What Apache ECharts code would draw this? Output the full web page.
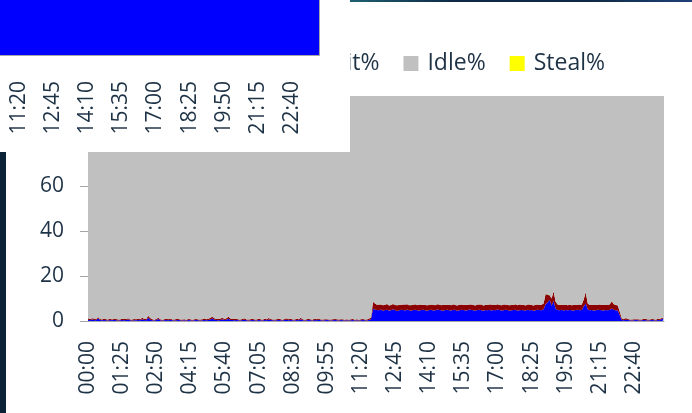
<!DOCTYPE html>
<html>
<head>
<meta charset="UTF-8">
<title>CPU</title>
<script src="https://cdn.jsdelivr.net/npm/echarts@6/dist/echarts.min.js"></script>
<style>
  html, body { margin: 0; padding: 0; background: #fff; }
  #main { width: 692px; height: 413px; }
</style>
</head>
<body>
<div id="main"></div>
<script type="text/javascript">
// 5-minute samples, 00:00 .. 23:55
var times = [];
for (var m = 0; m < 24 * 60; m += 5) {
    var h = Math.floor(m / 60), mm = m % 60;
    times.push((h < 10 ? '0' : '') + h + ':' + (mm < 10 ? '0' : '') + mm);
}

var userPct = [
    0.6,0.3,0.8,0.4,0.3,1.2,0.4,0.3,0.5,0.3,0.2,0.4,0.3,0.6,0.3,0.2,0.3,0.5,0.3,0.4,0.7,0.3,0.2,0.3,
    0.3,0.4,0.3,0.8,0.5,0.3,1.4,0.6,0.3,0.2,0.4,0.9,0.3,0.2,0.3,0.4,0.3,0.6,0.3,0.2,0.3,0.4,0.3,0.2,
    0.3,0.2,0.4,0.3,0.2,0.3,0.4,0.3,0.2,0.3,0.5,0.3,0.4,0.7,1.1,0.6,0.4,0.3,0.5,0.8,0.4,0.6,1.0,0.5,
    0.4,0.3,0.5,0.3,0.2,0.4,0.6,0.3,0.2,0.3,0.5,0.3,0.2,0.4,0.3,0.2,0.5,0.3,0.7,0.4,0.3,0.2,0.3,0.4,
    0.3,0.2,0.4,0.6,0.3,0.5,0.3,0.2,0.4,0.3,0.8,0.3,0.2,0.3,0.5,0.3,0.2,0.4,0.3,0.6,0.3,0.2,0.3,0.4,
    0.3,0.2,0.3,0.5,0.3,0.2,0.4,0.3,0.2,0.3,0.2,0.3,0.4,0.2,0.3,0.2,0.3,0.4,0.3,0.2,0.5,0.8,5.6,5.0,
    4.9,4.8,5.1,4.6,4.9,5.0,4.7,4.8,5.2,4.9,4.5,4.8,5.0,4.9,4.7,5.1,4.8,4.6,4.9,5.0,4.8,4.7,4.9,5.0,
    4.8,4.6,4.9,5.0,4.7,4.8,5.1,4.9,4.8,4.6,4.9,5.0,4.8,4.7,5.0,4.9,4.6,4.8,5.0,4.9,4.7,4.8,5.1,4.9,
    4.8,4.7,4.9,5.0,4.8,4.6,4.9,4.8,5.0,4.7,4.9,4.8,5.1,4.9,4.7,4.8,5.0,4.9,4.6,4.8,4.9,5.0,4.7,4.8,
    4.9,4.8,4.7,5.0,4.8,4.9,4.6,4.8,5.0,4.9,4.8,5.2,7.5,8.2,9.5,6.8,9.0,5.6,4.9,4.8,5.0,4.7,4.9,4.8,
    4.9,4.8,4.7,4.9,5.0,4.8,4.9,6.5,7.8,5.2,4.8,4.9,4.7,4.8,5.0,4.9,4.8,4.7,4.9,4.8,5.0,5.6,4.9,4.8,
    4.7,2.5,0.5,0.3,0.6,0.4,0.3,0.2,0.3,0.4,0.3,0.2,0.3,0.5,0.3,0.2,0.3,0.4,0.3,0.2,0.5,0.3,1.0,0.4
];

var sysPct = [
    0.5,0.6,0.4,0.7,0.5,0.6,0.5,0.4,0.6,0.5,0.5,0.6,0.4,0.5,0.6,0.5,0.4,0.5,0.6,0.5,0.5,0.4,0.5,0.6,
    0.5,0.6,0.5,0.7,0.5,0.6,0.9,0.7,0.5,0.4,0.5,0.6,0.5,0.4,0.5,0.6,0.5,0.5,0.4,0.5,0.6,0.5,0.4,0.5,
    0.5,0.4,0.5,0.5,0.4,0.5,0.5,0.4,0.5,0.5,0.6,0.5,0.6,0.7,0.8,0.6,0.5,0.6,0.6,0.7,0.5,0.6,0.9,0.6,
    0.5,0.6,0.5,0.4,0.5,0.5,0.6,0.4,0.5,0.5,0.5,0.4,0.5,0.6,0.5,0.4,0.5,0.5,0.6,0.5,0.4,0.5,0.5,0.6,
    0.5,0.4,0.5,0.6,0.5,0.5,0.4,0.5,0.6,0.5,0.6,0.5,0.4,0.5,0.5,0.4,0.5,0.6,0.5,0.5,0.4,0.5,0.5,0.4,
    0.4,0.5,0.5,0.4,0.5,0.5,0.4,0.5,0.4,0.5,0.4,0.5,0.5,0.4,0.5,0.4,0.5,0.5,0.4,0.5,0.6,0.7,3.0,2.8,
    2.3,2.5,2.2,2.4,2.3,2.6,2.2,2.3,2.4,2.2,2.5,2.3,2.2,2.4,2.6,2.3,2.2,2.4,2.3,2.5,2.2,2.6,2.3,2.2,
    2.3,2.4,2.2,2.3,2.5,2.2,2.3,2.4,2.2,2.6,2.3,2.2,2.4,2.3,2.5,2.2,2.3,2.4,2.3,2.2,2.5,2.3,2.2,2.4,
    2.3,2.2,2.4,2.3,2.5,2.3,2.2,2.4,2.3,2.6,2.2,2.3,2.4,2.2,2.3,2.5,2.3,2.2,2.4,2.3,2.2,2.4,2.3,2.5,
    2.3,2.4,2.2,2.3,2.5,2.2,2.3,2.4,2.3,2.2,2.4,2.6,4.5,3.4,2.0,3.2,4.2,3.0,2.4,2.3,2.2,2.4,2.3,2.2,
    2.3,2.2,2.4,2.3,2.2,2.5,2.3,3.1,5.0,2.6,2.3,2.2,2.4,2.3,2.2,2.4,2.3,2.5,2.2,2.3,2.4,3.2,2.6,2.3,
    2.2,1.5,0.6,0.5,0.7,0.5,0.4,0.5,0.5,0.4,0.5,0.5,0.4,0.5,0.6,0.5,0.4,0.5,0.5,0.4,0.6,0.5,0.6,0.5
];

var waitPct = [
    0,0,0,0,0,0,0,0,0,0,0,0,0,0,0,0,0,0,0,0,0,0,0,0,
    0,0,0,0,0,0,0,0,0,0,0,0,0,0,0,0,0,0,0,0,0,0,0,0,
    0,0,0,0,0,0,0,0,0,0,0,0,0,0,0,0,0,0,0,0,0,0,0,0,
    0,0,0,0,0,0,0,0,0,0,0,0,0,0,0,0,0,0,0,0,0,0,0,0,
    0,0,0,0,0,0,0,0,0,0,0,0,0,0,0,0,0,0,0,0,0,0,0,0,
    0,0,0,0,0,0,0,0,0,0,0,0,0,0,0,0,0,0,0,0,0,0,0,0,
    0,0,0,0,0,0,0,0,0,0,0,0,0,0,0,0,0,0.2,0,0,0,0,0,0,
    0,0,0,0,0,0,0,0,0,0,0,0,0,0,0,0,0,0,0,0,0,0,0,0,
    0,0,0,0,0,0,0,0,0,0,0,0,0,0,0,0,0,0,0,0,0,0,0,0,
    0,0,0,0,0,0,0,0,0,0,0,0,0,0.2,0,0,0,0,0,0,0,0,0,0,
    0,0,0,0,0,0,0,0,0.2,0,0,0,0,0,0,0,0,0,0,0,0,0,0,0,
    0,0,0,0,0,0,0,0,0,0,0,0,0,0,0,0,0,0,0,0,0,0,0,0
];

var stealPct = [
    0,0,0,0,0,0,0,0,0,0,0,0,0,0,0,0,0,0,0,0,0,0,0,0,
    0,0,0,0,0,0,0,0,0,0,0,0,0,0,0,0,0,0,0,0,0,0,0,0,
    0,0,0,0,0,0,0,0,0,0,0,0,0,0,0,0,0,0,0,0,0,0,0,0,
    0,0,0,0,0,0,0,0,0,0,0,0,0,0,0,0,0,0,0,0,0,0,0,0,
    0,0,0,0,0,0,0,0,0,0,0,0,0,0,0,0,0,0,0,0,0,0,0,0,
    0,0,0,0,0,0,0,0,0,0,0,0,0,0,0,0,0,0,0,0,0,0,0,0,
    0,0,0,0,0,0,0,0,0,0,0,0,0,0,0,0,0,0,0,0,0,0,0,0,
    0,0,0,0,0,0,0,0,0,0,0,0,0,0,0,0,0,0,0,0,0,0,0,0,
    0,0,0,0,0,0,0,0,0,0,0,0,0,0,0,0,0,0,0,0,0,0,0,0,
    0,0,0,0,0,0,0,0,0,0,0,0,0,0,0,0,0,0,0,0,0,0,0,0,
    0,0,0,0,0,0,0,0,0,0,0,0,0,0,0,0,0,0,0,0,0,0,0,0,
    0,0,0,0,0,0,0,0,0,0,0,0,0,0,0,0,0,0,0,0,0,0,0,0
];

// idle is whatever is left of 100%
var idlePct = userPct.map(function (u, i) {
    return +(100 - u - sysPct[i] - waitPct[i] - stealPct[i]).toFixed(1);
});

var seriesNames = ['User%', 'Sys%', 'Wait%', 'Idle%', 'Steal%'];
var seriesColors = ['#0000ff', '#8b0000', '#008000', '#c0c0c0', '#ffff00'];
var seriesData = [userPct, sysPct, waitPct, idlePct, stealPct];

var textColor = '#1e3246';
var fontFamily = '"Open Sans", sans-serif';

var myChart = echarts.init(document.getElementById('main'));

var series = seriesNames.map(function (name, i) {
    return {
        name: name,
        type: 'line',
        stack: 'cpu',
        data: seriesData[i],
        xAxisIndex: 0,
        yAxisIndex: 0,
        symbol: 'none',
        lineStyle: { width: 0 },
        areaStyle: { color: seriesColors[i], opacity: 1 },
        itemStyle: { color: seriesColors[i] }
    };
});

var axisLabelStyle = {
    rotate: 90,
    interval: 16,
    fontSize: 21,
    fontFamily: fontFamily,
    color: textColor
};

option = {
    animation: false,
    backgroundColor: '#ffffff',
    legend: {
        right: 82,
        top: 47,
        icon: 'rect',
        itemWidth: 15,
        itemHeight: 15,
        itemGap: 24,
        data: seriesNames,
        textStyle: { fontSize: 23, fontFamily: fontFamily, color: textColor, padding: [0, 0, 0, 4] }
    },
    grid: [
        { left: 88, right: 28, top: 96, bottom: 92, outerBoundsMode: 'none' },
        // copy of the time axis showing in the pasted box at the top left
        { left: -254, width: 576, top: -20, height: 75, z: 60, outerBoundsMode: 'none' }
    ],
    xAxis: [{
        type: 'category',
        gridIndex: 0,
        data: times,
        boundaryGap: false,
        axisLine: { lineStyle: { color: '#a6a6a6' } },
        axisTick: { show: false },
        axisLabel: Object.assign({ margin: 20 }, axisLabelStyle)
    }, {
        type: 'category',
        gridIndex: 1,
        z: 60,
        data: times,
        boundaryGap: false,
        axisLine: { show: false },
        axisTick: { show: false },
        axisLabel: Object.assign({ margin: 26 }, axisLabelStyle)
    }],
    yAxis: [{
        type: 'value',
        gridIndex: 0,
        min: 0,
        max: 100,
        interval: 20,
        splitLine: { show: false },
        axisLine: { show: true, lineStyle: { color: '#a6a6a6' } },
        axisTick: { show: true, length: 8, lineStyle: { color: '#a6a6a6' } },
        axisLabel: { margin: 24, fontSize: 21, fontFamily: fontFamily, color: textColor }
    }, {
        type: 'value',
        gridIndex: 1,
        show: false
    }],
    graphic: [
        { type: 'rect', z: 50, shape: { x: 0, y: 0, width: 350, height: 152 }, style: { fill: '#ffffff' } },
        { type: 'rect', z: 55, shape: { x: -10, y: -10, width: 329.5, height: 65.5 },
          style: { fill: '#0000ff', stroke: '#a6a6a6', lineWidth: 1 } },
        { type: 'rect', z: 55, shape: { x: 0, y: 152, width: 6, height: 261 }, style: { fill: '#0c2236' } },
        { type: 'rect', z: 55, shape: { x: 350, y: 0, width: 342, height: 2 },
          style: { fill: new echarts.graphic.LinearGradient(0, 0, 1, 0, [
              { offset: 0, color: '#1e6070' },
              { offset: 0.3, color: '#0e2a44' },
              { offset: 0.7, color: '#0e2a44' },
              { offset: 1, color: '#213f78' }
          ]) } }
    ],
    series: series
};

myChart.setOption(option);
</script>
</body>
</html>
